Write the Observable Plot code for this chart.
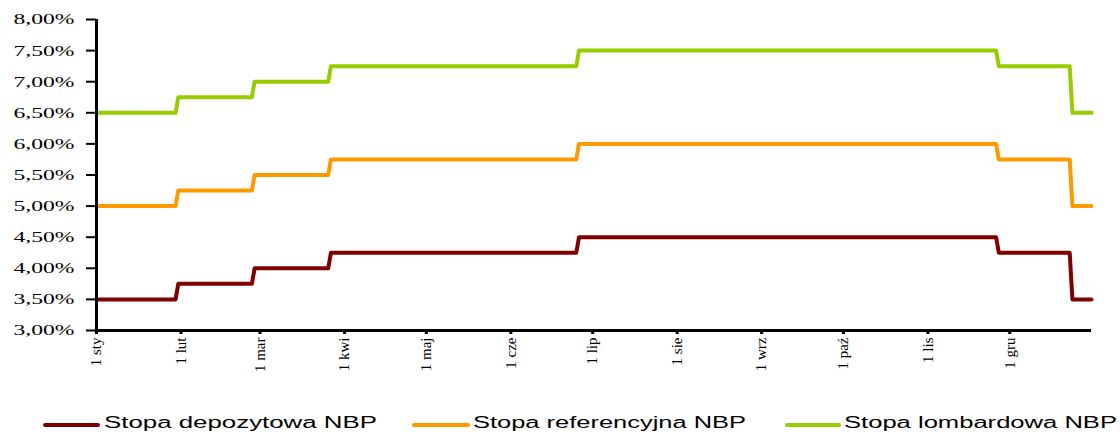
<!DOCTYPE html>
<html><head><meta charset="utf-8">
<script src="https://cdn.jsdelivr.net/npm/d3@7"></script>
<script src="https://cdn.jsdelivr.net/npm/@observablehq/plot@0.6"></script>
<style>
body{margin:0;background:#fff;}
#chart svg{display:block;}
</style>
</head><body><div id="chart"></div>
<script>
// Effective dates of rate changes (2008) and rates (%)
const changeDates = ["2008-01-01","2008-01-31","2008-02-28","2008-03-27","2008-06-26","2008-11-27","2008-12-24"];
const endDate = "2008-12-31";
const depozytowa = [3.50, 3.75, 4.00, 4.25, 4.50, 4.25, 3.50];
const referencyjna = [5.00, 5.25, 5.50, 5.75, 6.00, 5.75, 5.00];
const lombardowa = [6.50, 6.75, 7.00, 7.25, 7.50, 7.25, 6.50];
const seriesNames = ["Stopa depozytowa NBP", "Stopa referencyjna NBP", "Stopa lombardowa NBP"];
const seriesColors = ["#800000", "#FF9900", "#99CC00"];
const monthLabels = ["1 sty","1 lut","1 mar","1 kwi","1 maj","1 cze","1 lip","1 sie","1 wrz","1 paź","1 lis","1 gru"];
const yTicks = [3,3.5,4,4.5,5,5.5,6,6.5,7,7.5,8];

const DAY = 86400000;
const seriesValues = [depozytowa, referencyjna, lombardowa];
const rows = [];
seriesValues.forEach((vals, s) => {
  changeDates.forEach((ds, i) => {
    const d = new Date(ds + "T00:00:00Z");
    if (i > 0) rows.push({series: seriesNames[s], date: new Date(+d - DAY), value: vals[i-1]});
    rows.push({series: seriesNames[s], date: d, value: vals[i]});
  });
  rows.push({series: seriesNames[s], date: new Date(endDate + "T00:00:00Z"), value: vals[vals.length-1]});
});
const monthTicks = monthLabels.map((_, m) => new Date(Date.UTC(2008, m, 1)));
const x0 = new Date(changeDates[0] + "T00:00:00Z"), x1 = new Date(endDate + "T00:00:00Z");

const plot = Plot.plot({
  width: 1120, height: 400,
  marginLeft: 96, marginRight: 29, marginTop: 19, marginBottom: 70,
  style: {fontFamily: "'Liberation Serif', serif", background: "#fff", color: "#000"},
  x: {type: "utc", domain: [x0, x1]},
  y: {domain: [3, 8]},
  color: {domain: seriesNames, range: seriesColors},
  marks: [
    Plot.axisY({ticks: yTicks, tickSize: 10, tickPadding: 12, fontSize: 15.5, strokeWidth: 2,
      tickFormat: d => d.toFixed(2).replace(".", ",") + "%", label: null}),
    Plot.axisX({ticks: monthTicks, tickSize: 4, tickPadding: 3, fontSize: 15, tickRotate: -90, strokeWidth: 3,
      tickFormat: d => monthLabels[d.getUTCMonth()], label: null}),
    Plot.line(rows, {x: "date", y: "value", z: "series", stroke: "series", strokeWidth: 4, curve: "linear"}),
    Plot.ruleX([x0], {strokeWidth: 3, stroke: "#000"}),
    Plot.ruleY([3], {strokeWidth: 3, stroke: "#000"})
  ]
});
document.getElementById("chart").appendChild(plot);
d3.select(plot).selectAll("g[aria-label='y-axis tick label'] text")
  .attr("textLength", 61).attr("lengthAdjust", "spacingAndGlyphs");

// Legend below the chart
const legendX = [[45, 98, 104], [414, 468, 473], [787, 839, 844]];
const leg = d3.select("#chart").append("svg").attr("width", 1120).attr("height", 32)
  .style("display", "block");
seriesNames.forEach((name, i) => {
  const [a, b, t] = legendX[i];
  leg.append("line").attr("x1", a).attr("x2", b).attr("y1", 25).attr("y2", 25)
    .attr("stroke", seriesColors[i]).attr("stroke-width", 4).attr("stroke-linecap", "round");
  leg.append("text").attr("x", t).attr("y", 28).text(name)
    .attr("font-family", "'Liberation Sans', Arial, sans-serif").attr("font-size", 16)
    .attr("textLength", 273).attr("lengthAdjust", "spacingAndGlyphs").attr("fill", "#000");
});
</script>
</body></html>
